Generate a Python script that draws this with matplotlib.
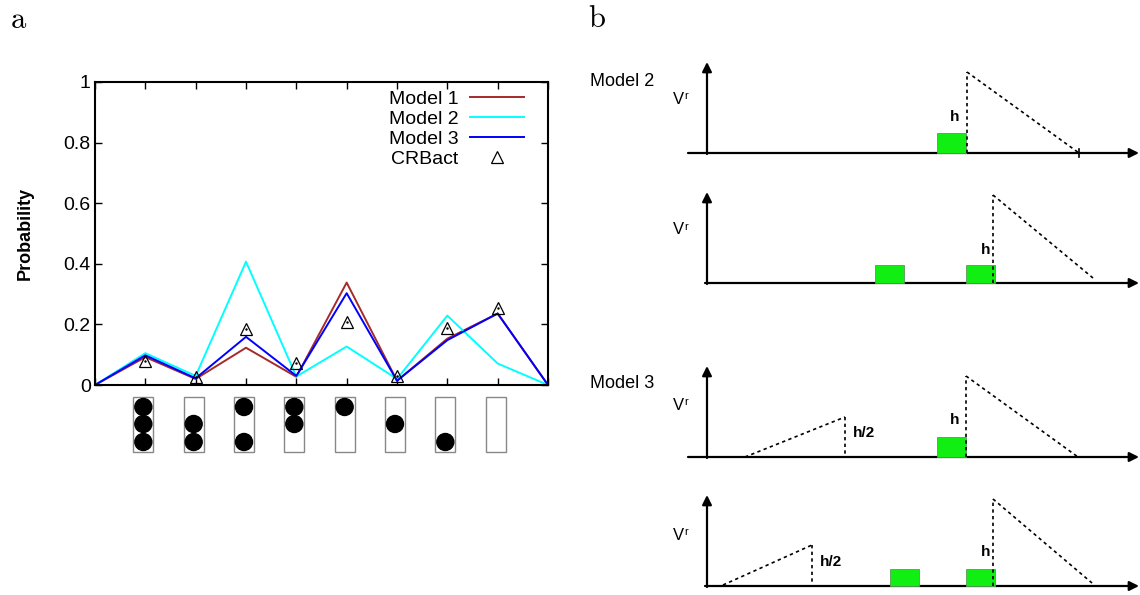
import matplotlib
matplotlib.use("Agg")
import matplotlib.pyplot as plt
from matplotlib.patches import Rectangle, Circle

plt.rcParams['font.family'] = ['Liberation Sans', 'DejaVu Sans']

# panel a data
x_pos = list(range(10))
model1 = [0, 0.092, 0.020, 0.123, 0.027, 0.338, 0.014, 0.153, 0.236, 0]
model2 = [0, 0.105, 0.030, 0.407, 0.028, 0.127, 0.020, 0.229, 0.071, 0]
model3 = [0, 0.098, 0.022, 0.159, 0.030, 0.303, 0.014, 0.148, 0.236, 0]
crbact_x = list(range(1, 9))
crbact = [0.078, 0.025, 0.186, 0.074, 0.209, 0.030, 0.189, 0.254]
y_ticks = [0, 0.2, 0.4, 0.6, 0.8, 1]
y_ticklabels = ['0', '0.2', '0.4', '0.6', '0.8', '1']
# filled slots (top, middle, bottom) of the glyph under each position
glyph_slots = [(1, 1, 1), (0, 1, 1), (1, 0, 1), (1, 1, 0),
               (1, 0, 0), (0, 1, 0), (0, 0, 1), (0, 0, 0)]

# panel b schematics (pixel coords, y down)
schem_base = [153, 283, 457, 586]
schem_xstart = [688, 705, 688, 705]
schem_peak_x = [967, 993, 966, 993]
schem_peak_y = [72, 195, 376, 499]
schem_tail = [(1079, 153), (1093, 278), (1078, 457), (1092, 583)]
schem_rects = [[937], [875, 966], [937], [890, 966]]
schem_rect_h = [20, 18, 20, 17]
schem_rise = [None, None, ((745, 457), (845, 417)), ((723, 585), (812, 545))]
schem_h_label = [(955, 117), (986, 250), (955, 420), (986, 552)]
schem_vr_y = [99, 230, 405, 535]

fig = plt.figure(figsize=(11.4, 5.95), dpi=100)
ax = fig.add_axes([95 / 1140, 1 - 385 / 595, 453 / 1140, 303 / 595])

ax.plot(x_pos, model1, color='#a52a2a', lw=1.4, label='Model 1')
ax.plot(x_pos, model2, color='#00ffff', lw=1.4, label='Model 2')
ax.plot(x_pos, model3, color='#0000ff', lw=1.4, label='Model 3')
ax.plot(crbact_x, crbact, ls='none', marker='^', mfc='none', mec='black',
        ms=9, mew=0.9, label='CRBact')
ax.plot(crbact_x, crbact, ls='none', marker='.', ms=1.5, color='black')

ax.set_xlim(0, 9)
ax.set_ylim(0, 1)
ax.set_xticks(x_pos)
ax.set_yticks(y_ticks)
ax.set_yticklabels(y_ticklabels)
ax.tick_params(axis='x', direction='in', top=True, labelbottom=False, length=5, width=1)
ax.tick_params(axis='y', direction='in', right=True, length=5, width=1, labelsize=14, pad=3)
for s in ax.spines.values():
    s.set_linewidth(1.5)
ax.set_ylabel('Probability', fontsize=13, fontweight='bold')
ax.yaxis.set_label_coords(-0.135, 0.5)
ax.legend(loc='upper right', bbox_to_anchor=(0.978, 1.018), borderaxespad=0.3,
          frameon=False, markerfirst=False, handlelength=2.8, handletextpad=0.6,
          labelspacing=0.12, fontsize=14)

# overlay in pixel coords
ov = fig.add_axes([0, 0, 1, 1])
ov.set_xlim(0, 1140)
ov.set_ylim(595, 0)
ov.axis('off')

ov.text(19, 20, r'$\mathrm{a}$', math_fontfamily='cm', fontsize=22, ha='center', va='center')
ov.text(597, 19, r'$\mathrm{b}$', math_fontfamily='cm', fontsize=22, ha='center', va='center')

# glyphs under x axis
box_w, box_h, box_top = 20, 55, 397
slot_y = [407, 424, 442]
for i, slots in enumerate(glyph_slots, start=1):
    cx = ax.transData.transform((i, 0))[0] - 2
    ov.add_patch(Rectangle((cx - box_w / 2, box_top), box_w, box_h, fill=False,
                           ec='#888888', lw=1))
    for filled, sy in zip(slots, slot_y):
        if filled:
            ov.add_patch(Circle((cx, sy), 8.5, color='black'))

# panel b
ov.text(590, 82, 'Model 2', fontsize=13, ha='left', va='center')
ov.text(590, 383, 'Model 3', fontsize=13, ha='left', va='center')
arrow_kw = dict(arrowstyle='-|>', color='black', lw=1.6, mutation_scale=14,
                shrinkA=0, shrinkB=0)
dot_kw = dict(color='black', lw=1.2, ls=(0, (2, 2)))
for k in range(4):
    base = schem_base[k]
    ov.annotate('', xy=(707, base - 91), xytext=(707, base + 1), arrowprops=arrow_kw)
    ov.annotate('', xy=(1139, base), xytext=(schem_xstart[k], base), arrowprops=arrow_kw)
    ov.text(678, schem_vr_y[k], 'V', fontsize=12, ha='center', va='center')
    ov.text(686.5, schem_vr_y[k] - 3, 'r', fontsize=8, ha='center', va='center')
    for rx in schem_rects[k]:
        ov.add_patch(Rectangle((rx, base - schem_rect_h[k]), 29, schem_rect_h[k],
                               fc='#11ee11', ec='#5a9a5a', lw=0.6, zorder=3))
    px, py = schem_peak_x[k], schem_peak_y[k]
    tx, ty = schem_tail[k]
    ov.plot([px, px], [base, py], zorder=4, **dot_kw)
    ov.plot([px, tx], [py, ty], zorder=4, **dot_kw)
    hx, hy = schem_h_label[k]
    ov.text(hx, hy, 'h', fontsize=11, fontweight='bold', ha='center', va='center')
    if schem_rise[k] is not None:
        (ax0, ay0), (ax1, ay1) = schem_rise[k]
        ov.plot([ax0, ax1], [ay0, ay1], **dot_kw)
        ov.plot([ax1, ax1], [ay1, base], **dot_kw)
        ov.text(ax1 + 8, (ay1 + base) / 2 - 4, 'h/2', fontsize=11, fontweight='bold',
                ha='left', va='center')
ov.plot([1079, 1079], [149, 157], color='black', lw=1.2)

fig.savefig('out.png', dpi=100)
